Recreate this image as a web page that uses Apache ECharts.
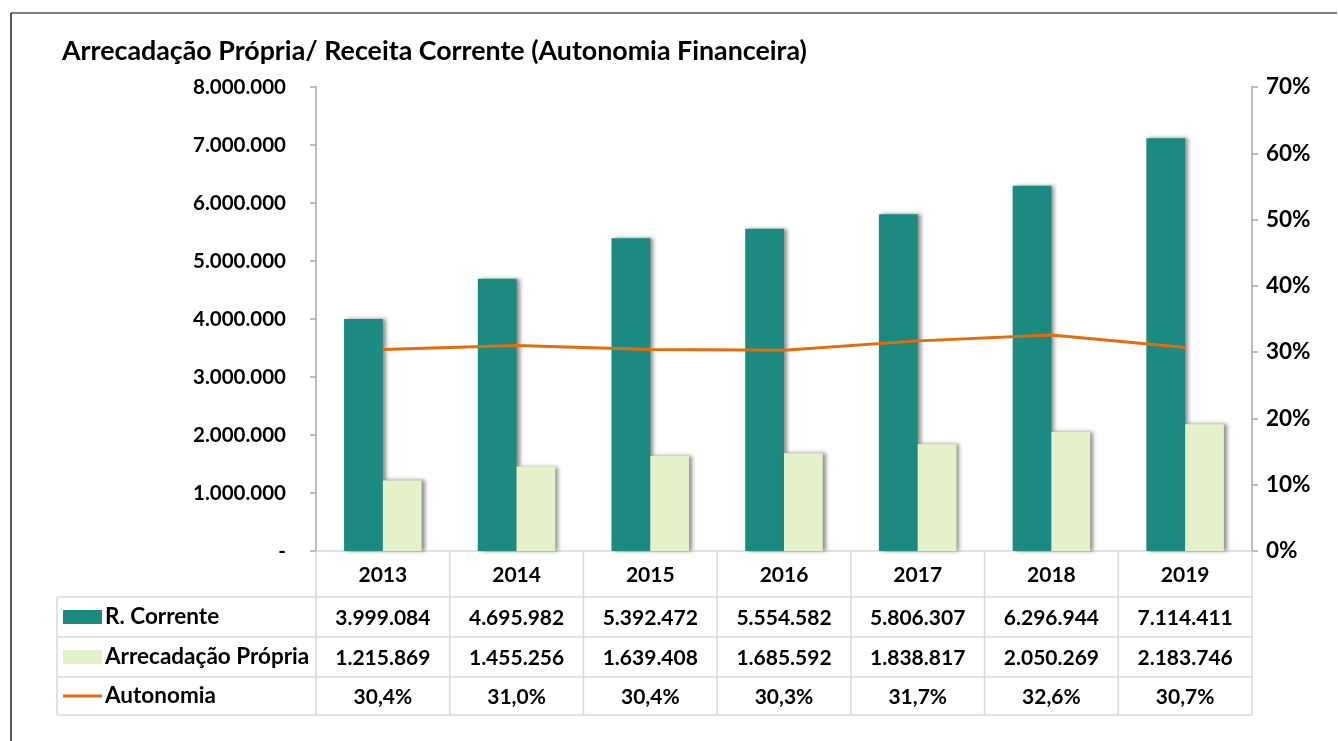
<!DOCTYPE html>
<html>
<head>
<meta charset="utf-8">
<script src="https://cdn.jsdelivr.net/npm/echarts@6/dist/echarts.min.js"></script>
<style>
html,body{margin:0;padding:0;background:#fff;}
#main{width:1338px;height:741px;}
</style>
</head>
<body>
<div id="main"></div>
<script>
const title = 'Arrecadação Própria/ Receita Corrente (Autonomia Financeira)';
const years = ['2013','2014','2015','2016','2017','2018','2019'];
const rCorrente = [3999084, 4695982, 5392472, 5554582, 5806307, 6296944, 7114411];
const arrecadacao = [1215869, 1455256, 1639408, 1685592, 1838817, 2050269, 2183746];
const autonomia = [30.4, 31.0, 30.4, 30.3, 31.7, 32.6, 30.7];
const seriesNames = ['R. Corrente', 'Arrecadação Própria', 'Autonomia'];

const FONT = 'Lato';
const C_TEAL = '#1b8a80';
const C_LIGHT = '#e4f1c9';
const C_ORANGE = '#e46c0a';
const C_GRID = '#d9d9d9';
const C_AXIS = '#a6a6a6';

function fmtThousands(v){
  if (v === 0) return '-';
  return String(Math.round(v)).replace(/\B(?=(\d{3})+(?!\d))/g, '.');
}
function fmtPct(v){ return v.toFixed(1).replace('.', ',') + '%'; }

const chart = echarts.init(document.getElementById('main'));
const GRID = {left:316, right:86, top:87, bottom:190};
const option = {
  animation:false,
  backgroundColor:'#fff',
  title:{text:title, left:57, top:33, textStyle:{fontFamily:FONT, fontWeight:'bold', fontSize:26.8, color:'#000'}},
  grid:GRID,
  xAxis:{type:'category', data:years,
    axisLine:{lineStyle:{color:C_GRID, width:1.5}},
    axisTick:{show:false}, axisLabel:{show:false}, splitLine:{show:false}},
  yAxis:[
    {type:'value', min:0, max:8000000, interval:1000000,
     axisLine:{show:true, lineStyle:{color:C_AXIS, width:1.5}},
     axisTick:{show:true, length:6, lineStyle:{color:C_AXIS, width:1.5}},
     splitLine:{show:false},
     axisLabel:{margin:30, formatter:fmtThousands, fontFamily:FONT, fontWeight:'bold', fontSize:20.5, color:'#000'}},
    {type:'value', min:0, max:70, interval:10, position:'right',
     axisLine:{show:true, lineStyle:{color:C_AXIS, width:1.5}},
     axisTick:{show:true, length:6, lineStyle:{color:C_AXIS, width:1.5}},
     splitLine:{show:false},
     axisLabel:{margin:14, formatter:v=>v+'%', fontFamily:FONT, fontWeight:'bold', fontSize:22.5, color:'#000'}}
  ],
  series:[
    {name:seriesNames[0], type:'bar', data:rCorrente, barGap:'0%', barCategoryGap:'42%',
     itemStyle:{color:C_TEAL, shadowColor:'rgba(0,0,0,0.45)', shadowBlur:4, shadowOffsetX:3}},
    {name:seriesNames[1], type:'bar', data:arrecadacao,
     itemStyle:{color:C_LIGHT, shadowColor:'rgba(0,0,0,0.45)', shadowBlur:4, shadowOffsetX:3}},
    {name:seriesNames[2], type:'line', yAxisIndex:1, data:autonomia, symbol:'none',
     lineStyle:{color:C_ORANGE, width:3}, itemStyle:{color:C_ORANGE}, z:5}
  ]
};
chart.setOption(option);

// Data table drawn from the arrays, positioned via the axis scale
const W = 1338, H = 741;
const x0 = GRID.left, x1 = W - GRID.right;
const yAxisY = H - GRID.bottom;
const rowY = [yAxisY, 597, 637, 677, 715];
const tableLeft = 57;
const n = years.length;
const centers = years.map(y => chart.convertToPixel({xAxisIndex:0}, y));
const step = (x1 - x0) / n;
const g = [];
const lineStyle = {stroke:C_GRID, lineWidth:1.5};
// outer frame
g.push({type:'line', shape:{x1:11, y1:13, x2:1337, y2:13}, style:{stroke:'#555', lineWidth:1.5}, silent:true});
g.push({type:'line', shape:{x1:11, y1:13, x2:11, y2:741}, style:{stroke:'#222', lineWidth:1.5}, silent:true});
// horizontal lines
for (let r = 1; r < rowY.length; r++) {
  g.push({type:'line', shape:{x1:tableLeft, y1:rowY[r], x2:x1, y2:rowY[r]}, style:lineStyle, silent:true});
}
// vertical lines
for (let i = 0; i <= n; i++) {
  const x = x0 + i * step;
  g.push({type:'line', shape:{x1:x, y1:yAxisY, x2:x, y2:rowY[4]}, style:lineStyle, silent:true});
}
g.push({type:'line', shape:{x1:tableLeft, y1:rowY[1], x2:tableLeft, y2:rowY[4]}, style:lineStyle, silent:true});
const txt = (x, y, s, align, size) => ({type:'text', x:x, y:y, silent:true,
  style:{text:s, fill:'#000', font:'bold ' + (size || 21) + 'px ' + FONT, textAlign:align || 'center', textVerticalAlign:'middle'}});
const rows = [years, rCorrente.map(fmtThousands), arrecadacao.map(fmtThousands), autonomia.map(fmtPct)];
rows.forEach((vals, r) => {
  const cy = (rowY[r] + rowY[r+1]) / 2 + 1;
  vals.forEach((v, i) => g.push(txt(centers[i], cy, v)));
});
// legend keys in the row headers
const keyX = 63, keyW = 39;
[1,2,3].forEach((r, k) => {
  const cy = (rowY[r] + rowY[r+1]) / 2;
  if (k < 2) {
    g.push({type:'rect', shape:{x:keyX, y:cy - 7, width:keyW, height:14}, style:{fill:k===0?C_TEAL:C_LIGHT}, silent:true});
  } else {
    g.push({type:'line', shape:{x1:keyX, y1:cy, x2:keyX+keyW, y2:cy}, style:{stroke:C_ORANGE, lineWidth:3}, silent:true});
  }
  g.push(txt(keyX + keyW + 3, cy, seriesNames[k], 'left', 22.5));
});
chart.setOption({graphic:g});
</script>
</body>
</html>
